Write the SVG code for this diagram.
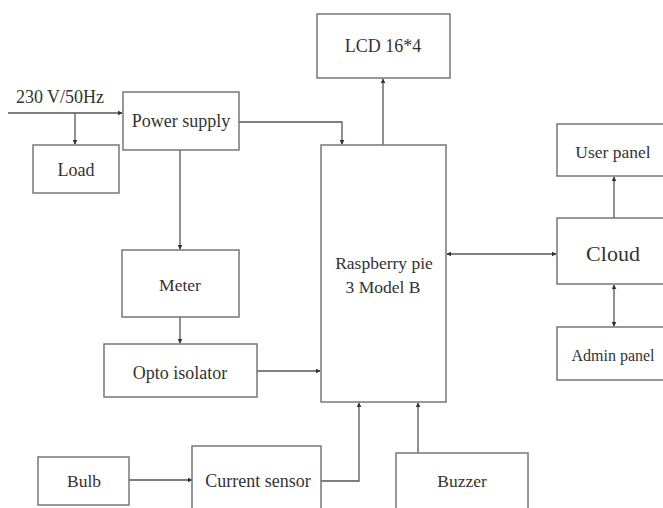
<svg xmlns="http://www.w3.org/2000/svg" width="663" height="508" viewBox="0 0 663 508">
<defs>
<marker id="ah" viewBox="0 0 8 8" refX="7" refY="4" markerWidth="5" markerHeight="5" orient="auto-start-reverse" markerUnits="userSpaceOnUse">
<path d="M0,0 L8,4 L0,8 z" fill="#333"/>
</marker>
<style>
.box{fill:#fff;stroke:#777;stroke-width:1.5}
.c{fill:none;stroke:#555;stroke-width:1.3}
</style>
</defs>
<rect width="663" height="508" fill="#fff"/>
<g id="connectors">
<path class="c" d="M8,113 H122" marker-end="url(#ah)"/>
<path class="c" d="M75,113 V144" marker-end="url(#ah)"/>
<path class="c" d="M239,122 H342 V144" marker-end="url(#ah)"/>
<path class="c" d="M383,145 V79" marker-end="url(#ah)"/>
<path class="c" d="M180,150 V249" marker-end="url(#ah)"/>
<path class="c" d="M180,317 V343" marker-end="url(#ah)"/>
<path class="c" d="M257,371 H320" marker-end="url(#ah)"/>
<path class="c" d="M447,254 H556" marker-start="url(#ah)" marker-end="url(#ah)"/>
<path class="c" d="M614,218 V177" marker-end="url(#ah)"/>
<path class="c" d="M614,285 V326" marker-start="url(#ah)" marker-end="url(#ah)"/>
<path class="c" d="M129,480 H192" marker-end="url(#ah)"/>
<path class="c" d="M321,481 H359 V403" marker-end="url(#ah)"/>
<path class="c" d="M418,453 V403" marker-end="url(#ah)"/>
</g>
<g font-family="'Liberation Serif', 'DejaVu Serif', serif" font-size="17.5" fill="#333" text-anchor="middle" dominant-baseline="central">
<text x="60" y="97" font-size="18">230 V/50Hz</text>
<g id="power"><rect class="box" x="123" y="92" width="116" height="58"/><text x="181" y="121" font-size="18">Power supply</text></g>
<g id="load"><rect class="box" x="33" y="145" width="86" height="48"/><text x="76" y="170" font-size="18">Load</text></g>
<g id="lcd"><rect class="box" x="317" y="14" width="133" height="64"/><text x="383" y="46" font-size="18">LCD 16*4</text></g>
<g id="rpi"><rect class="box" x="321" y="145" width="125" height="257"/><text x="384" y="263">Raspberry pie</text><text x="383" y="287">3 Model B</text></g>
<g id="meter"><rect class="box" x="122" y="250" width="117" height="67"/><text x="180" y="285">Meter</text></g>
<g id="opto"><rect class="box" x="104" y="344" width="153" height="53"/><text x="180" y="373" font-size="18">Opto isolator</text></g>
<g id="user"><rect class="box" x="557" y="124" width="112" height="52"/><text x="613" y="152">User panel</text></g>
<g id="cloud"><rect class="box" x="557" y="218" width="112" height="66"/><text x="613" y="253" font-size="22">Cloud</text></g>
<g id="admin"><rect class="box" x="557" y="327" width="112" height="53"/><text x="613" y="355" font-size="16">Admin panel</text></g>
<g id="bulb"><rect class="box" x="38" y="457" width="91" height="48"/><text x="84" y="481">Bulb</text></g>
<g id="current"><rect class="box" x="192" y="446" width="129" height="70"/><text x="258" y="481" font-size="18">Current sensor</text></g>
<g id="buzzer"><rect class="box" x="396" y="453" width="132" height="63"/><text x="462" y="481">Buzzer</text></g>
</g>
</svg>
